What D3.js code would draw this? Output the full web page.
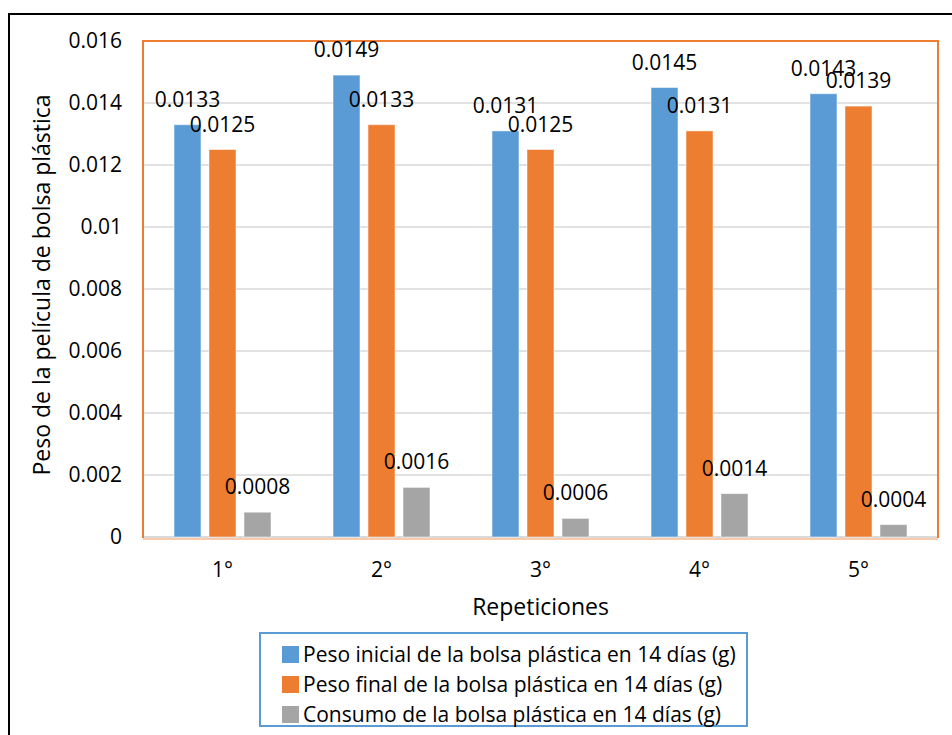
<!DOCTYPE html>
<html>
<head>
<meta charset="utf-8">
<script src="https://cdn.jsdelivr.net/npm/d3@7"></script>
<style>
  body { margin: 0; background: #fff; }
  svg text { font-family: "Open Sans", "Noto Sans", sans-serif; fill: #000; }
</style>
</head>
<body>
<svg id="chart" width="952" height="735"></svg>
<script>
// Repeticiones del ensayo
const categories = ["1°", "2°", "3°", "4°", "5°"];
const seriesNames = [
  "Peso inicial de la bolsa plástica en 14 días (g)",
  "Peso final de la bolsa plástica en 14 días (g)",
  "Consumo de la bolsa plástica en 14 días (g)"
];
const pesoInicial = [0.0133, 0.0149, 0.0131, 0.0145, 0.0143];
const pesoFinal   = [0.0125, 0.0133, 0.0125, 0.0131, 0.0139];
const consumo     = [0.0008, 0.0016, 0.0006, 0.0014, 0.0004];
const yTicks = [0, 0.002, 0.004, 0.006, 0.008, 0.01, 0.012, 0.014, 0.016];
const yTickLabels = ["0", "0.002", "0.004", "0.006", "0.008", "0.01", "0.012", "0.014", "0.016"];
const colors = ["#5b9bd5", "#ed7d31", "#a5a5a5"];

const seriesValues = [pesoInicial, pesoFinal, consumo];

const svg = d3.select("#chart");
const plot = { left: 143, right: 938, top: 41, bottom: 537 };
const labelSize = 21, titleSize = 23, legendSize = 21;

// Outer frame
svg.append("rect")
  .attr("x", 9).attr("y", 14).attr("width", 960).attr("height", 740)
  .attr("fill", "none").attr("stroke", "#000").attr("stroke-width", 2);

const x0 = d3.scaleBand().domain(categories).range([plot.left, plot.right]);
const groupWidth = 97;
const x1 = d3.scaleBand().domain(d3.range(3)).range([0, groupWidth]).paddingInner(8 / 35);
const y = d3.scaleLinear().domain([0, 0.016]).range([plot.bottom, plot.top]);

// Gridlines
svg.append("g").selectAll("line").data(yTicks.slice(1)).join("line")
  .attr("x1", plot.left).attr("x2", plot.right)
  .attr("y1", d => y(d)).attr("y2", d => y(d))
  .attr("stroke", "#d9d9d9").attr("stroke-width", 1.5);

// Plot-area border
svg.append("rect")
  .attr("x", plot.left).attr("y", plot.top)
  .attr("width", plot.right - plot.left).attr("height", plot.bottom - plot.top)
  .attr("fill", "none").attr("stroke", "#ed7d31").attr("stroke-width", 2);

// Category axis line
svg.append("line")
  .attr("x1", plot.left + 1).attr("x2", plot.right - 1)
  .attr("y1", y(0)).attr("y2", y(0))
  .attr("stroke", "#d9d9d9").attr("stroke-width", 2);
svg.append("line")
  .attr("x1", plot.left).attr("x2", plot.right)
  .attr("y1", y(0) + 2).attr("y2", y(0) + 2)
  .attr("stroke", "#f8cbad").attr("stroke-width", 2);

// Bars and value labels
const groupOffset = (x0.bandwidth() - groupWidth) / 2;
const groups = svg.append("g").selectAll("g").data(categories).join("g")
  .attr("transform", d => `translate(${x0(d) + groupOffset},0)`);

groups.each(function (cat, ci) {
  const g = d3.select(this);
  seriesValues.forEach((vals, si) => {
    const v = vals[ci];
    g.append("rect")
      .attr("x", x1(si)).attr("y", y(v))
      .attr("width", x1.bandwidth()).attr("height", y(0) - y(v))
      .attr("fill", colors[si])
      .attr("stroke", "#fff").attr("stroke-opacity", 0.5).attr("stroke-width", 1);
  });
  seriesValues.forEach((vals, si) => {
    const v = vals[ci];
    g.append("text")
      .attr("x", x1(si) + x1.bandwidth() / 2).attr("y", y(v) - 18)
      .attr("text-anchor", "middle").attr("font-size", labelSize)
      .text(String(v));
  });
});

// Y tick labels
svg.append("g").selectAll("text").data(yTicks).join("text")
  .attr("x", 122).attr("y", d => y(d)).attr("dy", "0.35em")
  .attr("text-anchor", "end").attr("font-size", labelSize)
  .text((d, i) => yTickLabels[i]);

// X tick labels
svg.append("g").selectAll("text").data(categories).join("text")
  .attr("x", d => x0(d) + x0.bandwidth() / 2).attr("y", 577)
  .attr("text-anchor", "middle").attr("font-size", labelSize)
  .text(d => d);

// Axis titles
svg.append("text")
  .attr("x", (plot.left + plot.right) / 2).attr("y", 615)
  .attr("text-anchor", "middle").attr("font-size", titleSize)
  .text("Repeticiones");
svg.append("text")
  .attr("transform", `translate(50,${(plot.top + plot.bottom) / 2 - 4}) rotate(-90)`)
  .attr("text-anchor", "middle").attr("font-size", titleSize)
  .text("Peso de la película de bolsa plástica");

// Legend
const legend = svg.append("g");
legend.append("rect")
  .attr("x", 260).attr("y", 633).attr("width", 487).attr("height", 93)
  .attr("fill", "#fff").attr("stroke", "#5b9bd5").attr("stroke-width", 2);
const items = legend.selectAll("g.item").data(seriesNames).join("g")
  .attr("class", "item")
  .attr("transform", (d, i) => `translate(282,${646 + i * 30})`);
items.append("rect")
  .attr("width", 17).attr("height", 17)
  .attr("fill", (d, i) => colors[i]);
items.append("text")
  .attr("x", 21).attr("y", 16).attr("font-size", legendSize)
  .text(d => d);
</script>
</body>
</html>
